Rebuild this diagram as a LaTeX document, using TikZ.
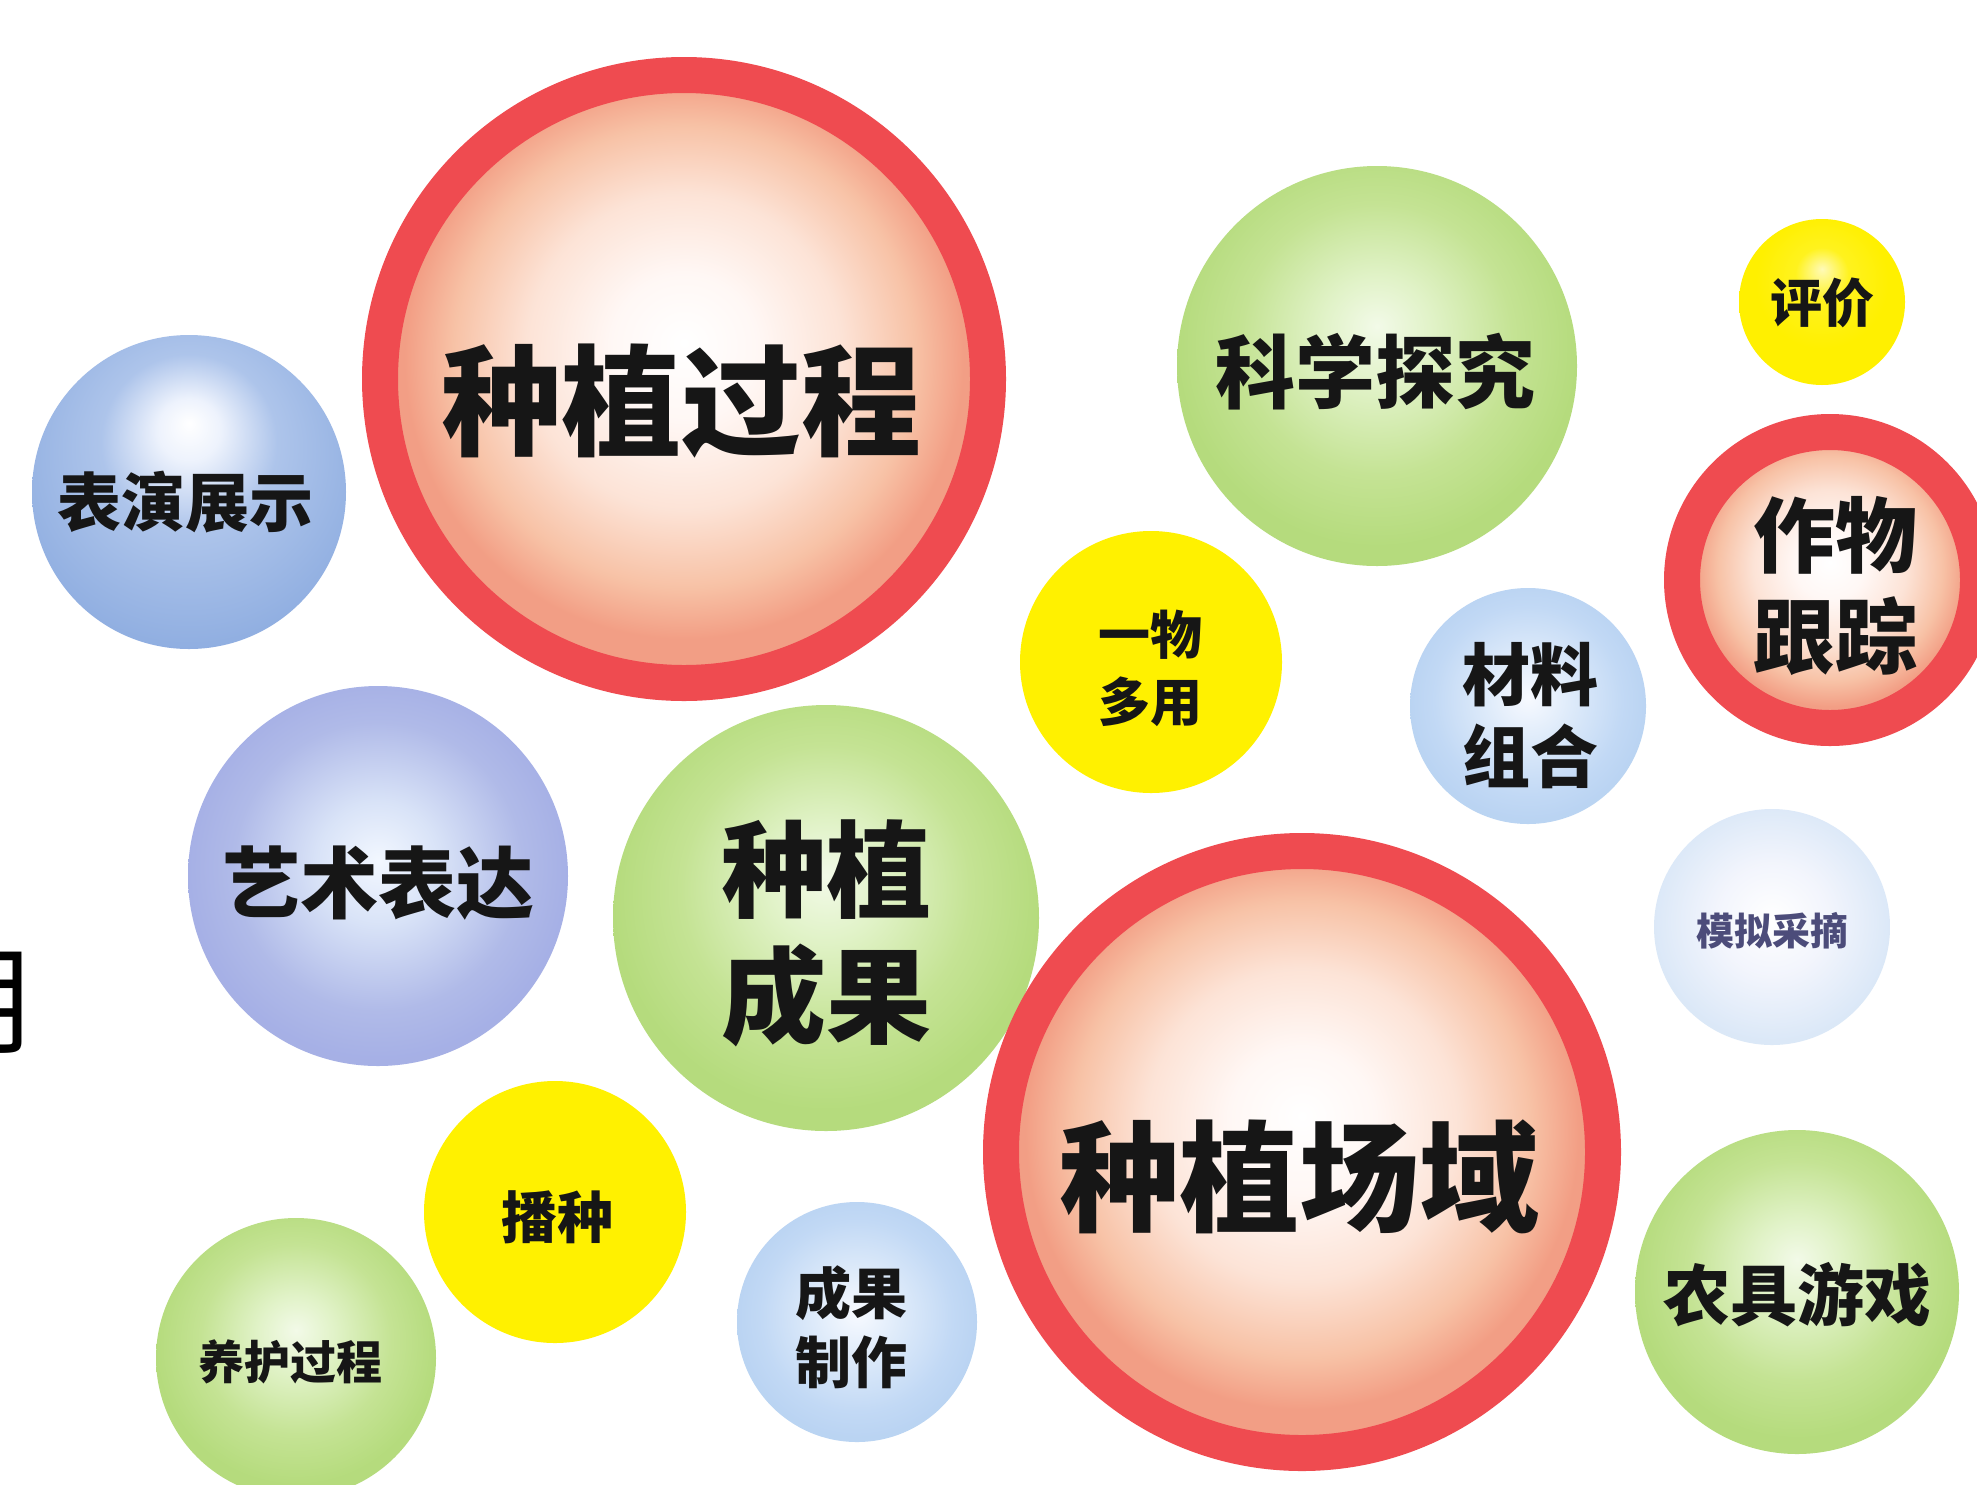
\documentclass[tikz,border=0pt]{standalone}
\usepackage{fontspec}
\newfontfamily\cjk{Noto Sans CJK SC}
\pgfdeclareradialshading{redball}{\pgfpoint{0bp}{3bp}}{rgb(0bp)=(1,1,1); rgb(6bp)=(1,0.97,0.96); rgb(13bp)=(0.99,0.89,0.84); rgb(19bp)=(0.97,0.76,0.65); rgb(23bp)=(0.95,0.62,0.52); rgb(50bp)=(0.95,0.62,0.52)}
\pgfdeclareradialshading{greenball}{\pgfpoint{0bp}{5bp}}{rgb(0bp)=(0.95,0.98,0.91); rgb(7bp)=(0.88,0.95,0.78); rgb(17bp)=(0.77,0.89,0.58); rgb(25bp)=(0.71,0.86,0.49); rgb(50bp)=(0.71,0.86,0.49)}
\pgfdeclareradialshading{blueball}{\pgfpoint{0bp}{11bp}}{rgb(0bp)=(1,1,1); rgb(5bp)=(0.93,0.95,0.99); rgb(14bp)=(0.68,0.77,0.92); rgb(30bp)=(0.56,0.68,0.88); rgb(50bp)=(0.56,0.68,0.88)}
\pgfdeclareradialshading{purpleball}{\pgfpoint{0bp}{2bp}}{rgb(0bp)=(0.95,0.97,1); rgb(8bp)=(0.85,0.89,0.97); rgb(19bp)=(0.69,0.73,0.91); rgb(25bp)=(0.65,0.69,0.90); rgb(50bp)=(0.65,0.69,0.90)}
\pgfdeclareradialshading{lightblueball}{\pgfpoint{0bp}{2bp}}{rgb(0bp)=(0.97,0.98,1); rgb(9bp)=(0.87,0.92,0.98); rgb(20bp)=(0.76,0.85,0.96); rgb(25bp)=(0.73,0.83,0.95); rgb(50bp)=(0.73,0.83,0.95)}
\pgfdeclareradialshading{paleball}{\pgfpoint{0bp}{2bp}}{rgb(0bp)=(1,1,1); rgb(12bp)=(0.95,0.96,0.99); rgb(25bp)=(0.86,0.91,0.97); rgb(50bp)=(0.86,0.91,0.97)}
\pgfdeclareradialshading{yellowball}{\pgfpoint{0bp}{10bp}}{rgb(0bp)=(1,0.98,0.72); rgb(8bp)=(1,0.95,0.12); rgb(20bp)=(1,0.94,0); rgb(50bp)=(1,0.94,0)}
\definecolor{ringred}{HTML}{EF4B50}
\definecolor{flatyellow}{HTML}{FFF100}
\definecolor{ink}{HTML}{161616}
\tikzset{
  bubble/.style={circle, inner sep=0pt, minimum size=#1},
  redbubble/.style={circle, inner sep=0pt, minimum size=#1, shading=redball, draw=ringred, line width=36pt},
  label/.style={text=ink, inner sep=0pt, align=center},
  bigtxt/.style={label, font=\cjk\bfseries\fontsize{120}{140}\selectfont},
}
\begin{document}
\begin{tikzpicture}[x=1pt,y=-1pt]
\useasboundingbox (0,0) rectangle (1977,1484);
\clip (0,0) rectangle (1977,1484);
\fill[white] (0,0) rectangle (1977,1484);
% circles
\node[bubble=314pt, shading=blueball] (c2) at (189,492) {};
\node[bubble=380pt, shading=purpleball] (c3) at (378,876) {};
\node[bubble=262pt, fill=flatyellow] (c5) at (555,1212) {};
\node[bubble=280pt, shading=greenball] (c6) at (296,1358) {};
\node[bubble=240pt, shading=lightblueball] (c7) at (857,1322) {};
\node[bubble=426pt, shading=greenball] (c4) at (826,918) {};
\node[redbubble=608pt] (c1) at (684,379) {};
\node[bubble=400pt, shading=greenball] (c9) at (1377,366) {};
\node[bubble=262pt, fill=flatyellow] (c10) at (1151,662) {};
\node[bubble=236pt, shading=lightblueball] (c11) at (1528,706) {};
\node[bubble=166pt, shading=yellowball] (c12) at (1822,302) {};
\node[redbubble=296pt] (c13) at (1830,580) {};
\node[bubble=236pt, shading=paleball] (c14) at (1772,927) {};
\node[bubble=324pt, shading=greenball] (c15) at (1797,1292) {};
\node[redbubble=602pt] (c8) at (1302,1152) {};
% labels
\node[bigtxt] (t1) at (681,401) {种植过程};
\node[bigtxt] (t8) at (1299,1177) {种植场域};
\node[label, font=\cjk\bfseries\fontsize{64}{76}\selectfont] (t2) at (185,502) {表演展示};
\node[label, font=\cjk\bfseries\fontsize{78}{90}\selectfont] (t3) at (378,883) {艺术表达};
\node[label, font=\cjk\bfseries\fontsize{105}{126}\selectfont] (t4) at (826,933) {种植\\成果};
\node[label, font=\cjk\bfseries\fontsize{80}{96}\selectfont] (t9) at (1375,372) {科学探究};
\node[label, font=\cjk\bfseries\fontsize{52}{67}\selectfont] (t10) at (1150,668) {一物\\多用};
\node[label, font=\cjk\bfseries\fontsize{68}{82}\selectfont] (t11) at (1530,716) {材料\\组合};
\node[label, font=\cjk\bfseries\fontsize{52}{62}\selectfont] (t12) at (1822,303) {评价};
\node[label, font=\cjk\bfseries\fontsize{82}{101}\selectfont] (t13) at (1835,586) {作物\\跟踪};
\node[label, text=black!55!blue!40!gray, font=\cjk\bfseries\fontsize{38}{46}\selectfont] (t14) at (1772,931) {模拟采摘};
\node[label, font=\cjk\bfseries\fontsize{56}{66}\selectfont] (t5) at (557,1217) {播种};
\node[label, font=\cjk\bfseries\fontsize{46}{56}\selectfont] (t6) at (290,1362) {养护过程};
\node[label, font=\cjk\bfseries\fontsize{56}{69}\selectfont] (t7) at (851,1327) {成果\\制作};
\node[label, font=\cjk\bfseries\fontsize{67}{80}\selectfont] (t15) at (1797,1295) {农具游戏};
\node[label, text=black, font=\cjk\fontsize{120}{140}\selectfont] (t0) at (-24,1003) {用};
\end{tikzpicture}
\end{document}
